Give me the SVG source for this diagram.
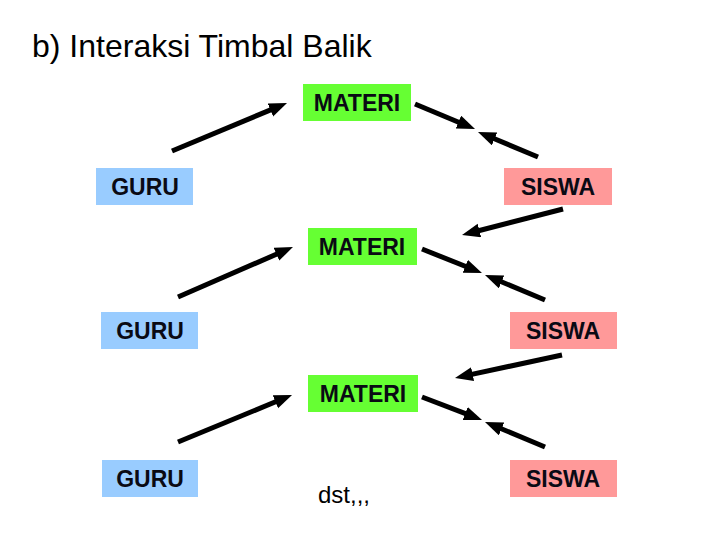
<svg xmlns="http://www.w3.org/2000/svg" width="720" height="540" viewBox="0 0 720 540">
<defs>
<style>
text{font-family:"Liberation Sans",Arial,sans-serif;fill:#000}
.lbl{font-size:23px;font-weight:bold;text-anchor:middle;fill:#0a0a14}
.m{fill:#66ff33}
.g{fill:#99ccff}
.s{fill:#ff9999}
.c line{stroke:#000;stroke-width:5;marker-end:url(#ah)}
</style>
<marker id="ah" markerUnits="userSpaceOnUse" markerWidth="19" markerHeight="15" refX="8" refY="7" orient="auto">
<path d="M0,0 L18,7 L0,14 z" fill="#000"/>
</marker>
</defs>
<rect width="720" height="540" fill="#fff"/>
<text x="32" y="57" font-size="32">b) Interaksi Timbal Balik</text>

<g id="materi1"><rect class="m" x="303" y="84" width="108" height="37"/><text class="lbl" x="357" y="111">MATERI</text></g>
<g id="guru1"><rect class="g" x="96" y="168" width="97" height="37"/><text class="lbl" x="145" y="195">GURU</text></g>
<g id="siswa1"><rect class="s" x="504" y="168" width="108" height="37"/><text class="lbl" x="558" y="195">SISWA</text></g>

<g id="materi2"><rect class="m" x="308" y="228" width="109" height="37"/><text class="lbl" x="362" y="255">MATERI</text></g>
<g id="guru2"><rect class="g" x="101" y="312" width="97" height="37"/><text class="lbl" x="150" y="339">GURU</text></g>
<g id="siswa2"><rect class="s" x="510" y="312" width="107" height="37"/><text class="lbl" x="563" y="339">SISWA</text></g>

<g id="materi3"><rect class="m" x="308" y="375" width="110" height="37"/><text class="lbl" x="363" y="402">MATERI</text></g>
<g id="guru3"><rect class="g" x="102" y="460" width="96" height="37"/><text class="lbl" x="150" y="487">GURU</text></g>
<g id="siswa3"><rect class="s" x="510" y="460" width="107" height="37"/><text class="lbl" x="563" y="487">SISWA</text></g>

<text x="318" y="503" font-size="24">dst,,,</text>

<g class="c" id="connectors">
<line x1="172" y1="151" x2="277.8" y2="106.9"/>
<line x1="415" y1="104" x2="465.8" y2="125.2"/>
<line x1="538" y1="157" x2="487.2" y2="135.8"/>
<line x1="563" y1="209" x2="471.7" y2="232.5"/>
<line x1="178" y1="297" x2="283.8" y2="251"/>
<line x1="422" y1="249" x2="472.7" y2="269.3"/>
<line x1="545" y1="300" x2="494.2" y2="278.8"/>
<line x1="562" y1="355" x2="464.8" y2="375.9"/>
<line x1="178" y1="442" x2="282.8" y2="398.8"/>
<line x1="422" y1="397" x2="472.7" y2="416.4"/>
<line x1="545" y1="447" x2="494.2" y2="425.8"/>
</g>
</svg>
